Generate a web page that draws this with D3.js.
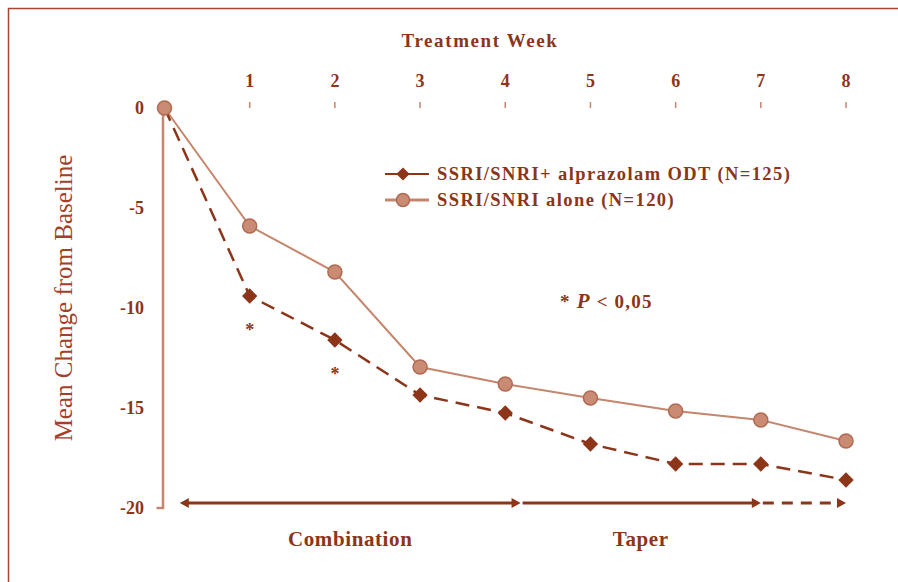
<!DOCTYPE html>
<html>
<head>
<meta charset="utf-8">
<script src="https://cdn.jsdelivr.net/npm/d3@7"></script>
<style>
	body { margin: 0; background: #fff; }
	svg { display: block; }
</style>
</head>
<body>
<div class="plot"></div>
<script>
// Data
const weeks = [0, 1, 2, 3, 4, 5, 6, 7, 8];
const weekTicks = [1, 2, 3, 4, 5, 6, 7, 8];
const yTicks = [0, -5, -10, -15, -20];
const comboValues = [0, -9.4, -11.6, -14.35, -15.25, -16.8, -17.8, -17.8, -18.6];
const aloneValues = [0, -5.9, -8.2, -12.95, -13.8, -14.5, -15.15, -15.6, -16.65];
const sigWeeks = [1, 2];
const phases = [
	{ label: 'Combination', from: 0.18, to: 4.18, dashed: false, leftHead: true },
	{ label: 'Taper', from: 4.18, to: 7, dashed: false, leftHead: false },
	{ label: '', from: 7, to: 8, dashed: true, leftHead: false }
];
const legendLabels = ['SSRI/SNRI+ alprazolam ODT (N=125)', 'SSRI/SNRI alone (N=120)'];

const W = 898, H = 582;
const dark = '#8c3519';
const light = '#c4866c';
const serif = '"Liberation Serif", "Times New Roman", serif';

const svg = d3.select('.plot').append('svg')
	.attr('width', W)
	.attr('height', H);

// frame
svg.append('path')
	.attr('d', `M8.5,${H} V8.5 H${W}`)
	.attr('fill', 'none')
	.attr('stroke', '#a8452c')
	.attr('stroke-width', 1.5);

const x = d3.scaleLinear().domain([0, 8]).range([164.5, 846]);
const y = d3.scaleLinear().domain([0, -20]).range([108, 508]);

// y axis line
svg.append('path')
	.attr('d', `M${x(0) - 1.5},${y(0)} V${y(-20)} H${x(0) - 8}`)
	.attr('fill', 'none')
	.attr('stroke', light)
	.attr('stroke-width', 2.5);

svg.selectAll('.ytick')
	.data(yTicks)
	.enter().append('text')
	.attr('class', 'ytick')
	.attr('x', 144)
	.attr('y', d => y(d))
	.attr('dy', '0.35em')
	.attr('text-anchor', 'end')
	.attr('font-family', serif)
	.attr('font-weight', 'bold')
	.attr('font-size', 18)
	.attr('fill', dark)
	.text(d => d === 0 ? '0' : '-' + Math.abs(d));

// top week axis
svg.selectAll('.xtickmark')
	.data(weekTicks)
	.enter().append('line')
	.attr('x1', d => x(d)).attr('x2', d => x(d))
	.attr('y1', 102).attr('y2', 108)
	.attr('stroke', light)
	.attr('stroke-width', 1.5);

svg.selectAll('.xtick')
	.data(weekTicks)
	.enter().append('text')
	.attr('x', d => x(d))
	.attr('y', 87)
	.attr('text-anchor', 'middle')
	.attr('font-family', serif)
	.attr('font-weight', 'bold')
	.attr('font-size', 18)
	.attr('fill', dark)
	.text(d => d);

svg.append('text')
	.attr('x', 480)
	.attr('y', 47)
	.attr('text-anchor', 'middle')
	.attr('font-family', serif)
	.attr('font-weight', 'bold')
	.attr('font-size', 19)
	.attr('fill', dark)
	.attr('letter-spacing', 1.6)
	.text('Treatment Week');

svg.append('text')
	.attr('transform', 'translate(72,298) rotate(-90)')
	.attr('text-anchor', 'middle')
	.attr('font-family', serif)
	.attr('font-size', 25)
	.attr('fill', '#a3402a')
	.text('Mean Change from Baseline');

// series
const line = d3.line().x((d, i) => x(weeks[i])).y(d => y(d));

svg.append('path')
	.datum(aloneValues)
	.attr('d', line)
	.attr('fill', 'none')
	.attr('stroke', light)
	.attr('stroke-width', 2);

svg.append('path')
	.datum(comboValues)
	.attr('d', line)
	.attr('fill', 'none')
	.attr('stroke', dark)
	.attr('stroke-width', 2.5)
	.attr('stroke-dasharray', '14,8');

const diamond = d3.symbol().type(d3.symbolDiamond2).size(150);

svg.selectAll('.combo')
	.data(comboValues.slice(1))
	.enter().append('path')
	.attr('transform', (d, i) => `translate(${x(weeks[i + 1])},${y(d)})`)
	.attr('d', diamond)
	.attr('fill', dark);

svg.selectAll('.alone')
	.data(aloneValues)
	.enter().append('circle')
	.attr('cx', (d, i) => x(weeks[i]))
	.attr('cy', d => y(d))
	.attr('r', 7)
	.attr('fill', '#c98b73')
	.attr('stroke', '#b06a52')
	.attr('stroke-width', 1.5);

// significance asterisks
svg.selectAll('.sig')
	.data(sigWeeks)
	.enter().append('text')
	.attr('x', d => x(d))
	.attr('y', d => y(comboValues[d]) + 40)
	.attr('text-anchor', 'middle')
	.attr('font-family', serif)
	.attr('font-weight', 'bold')
	.attr('font-size', 18)
	.attr('fill', dark)
	.text('*');

const pNote = svg.append('text')
	.attr('x', 560)
	.attr('y', 308)
	.attr('font-family', serif)
	.attr('font-weight', 'bold')
	.attr('font-size', 19)
	.attr('letter-spacing', 1.2)
	.attr('fill', dark);
pNote.append('tspan').text('* ');
pNote.append('tspan').attr('font-style', 'italic').attr('font-size', 21).text('P');
pNote.append('tspan').text(' < 0,05');

// legend
const legend = svg.selectAll('.legend')
	.data(legendLabels)
	.enter().append('g')
	.attr('transform', (d, i) => `translate(385,${174 + i * 26})`);

legend.append('line')
	.attr('x1', 0).attr('x2', 44)
	.attr('stroke', (d, i) => i === 0 ? dark : light)
	.attr('stroke-width', (d, i) => i === 0 ? 2 : 3);

legend.each(function(d, i) {
	const g = d3.select(this);
	if (i === 0) {
		g.append('path').attr('transform', 'translate(18,0)').attr('d', d3.symbol().type(d3.symbolDiamond2).size(110)).attr('fill', dark);
	} else {
		g.append('circle').attr('cx', 18).attr('r', 6.5).attr('fill', '#c98b73').attr('stroke', '#b06a52').attr('stroke-width', 1.5);
	}
});

legend.append('text')
	.attr('x', 52)
	.attr('dy', '0.35em')
	.attr('font-family', serif)
	.attr('font-weight', 'bold')
	.attr('font-size', 18.5)
	.attr('letter-spacing', 1.4)
	.attr('fill', dark)
	.text(d => d);

// treatment phase arrows
const phaseY = y(-19.75);
const headRight = (px) => `M${px},${phaseY} l-9,-5 v10 z`;
const headLeft = (px) => `M${px},${phaseY} l9,-5 v10 z`;

phases.forEach(p => {
	svg.append('line')
		.attr('x1', x(p.from) + (p.leftHead ? 4 : 2))
		.attr('x2', x(p.to) - 4)
		.attr('y1', phaseY).attr('y2', phaseY)
		.attr('stroke', dark)
		.attr('stroke-width', 3)
		.attr('stroke-dasharray', p.dashed ? '11,8' : null);
	svg.append('path').attr('d', headRight(x(p.to))).attr('fill', dark);
	if (p.leftHead) svg.append('path').attr('d', headLeft(x(p.from))).attr('fill', dark);
	if (p.label) {
		svg.append('text')
			.attr('x', (x(p.from) + x(p.to)) / 2)
			.attr('y', 546)
			.attr('text-anchor', 'middle')
			.attr('font-family', serif)
			.attr('font-weight', 'bold')
			.attr('font-size', 21)
			.attr('letter-spacing', 0.6)
			.attr('fill', dark)
			.text(p.label);
	}
});
</script>
</body>
</html>
